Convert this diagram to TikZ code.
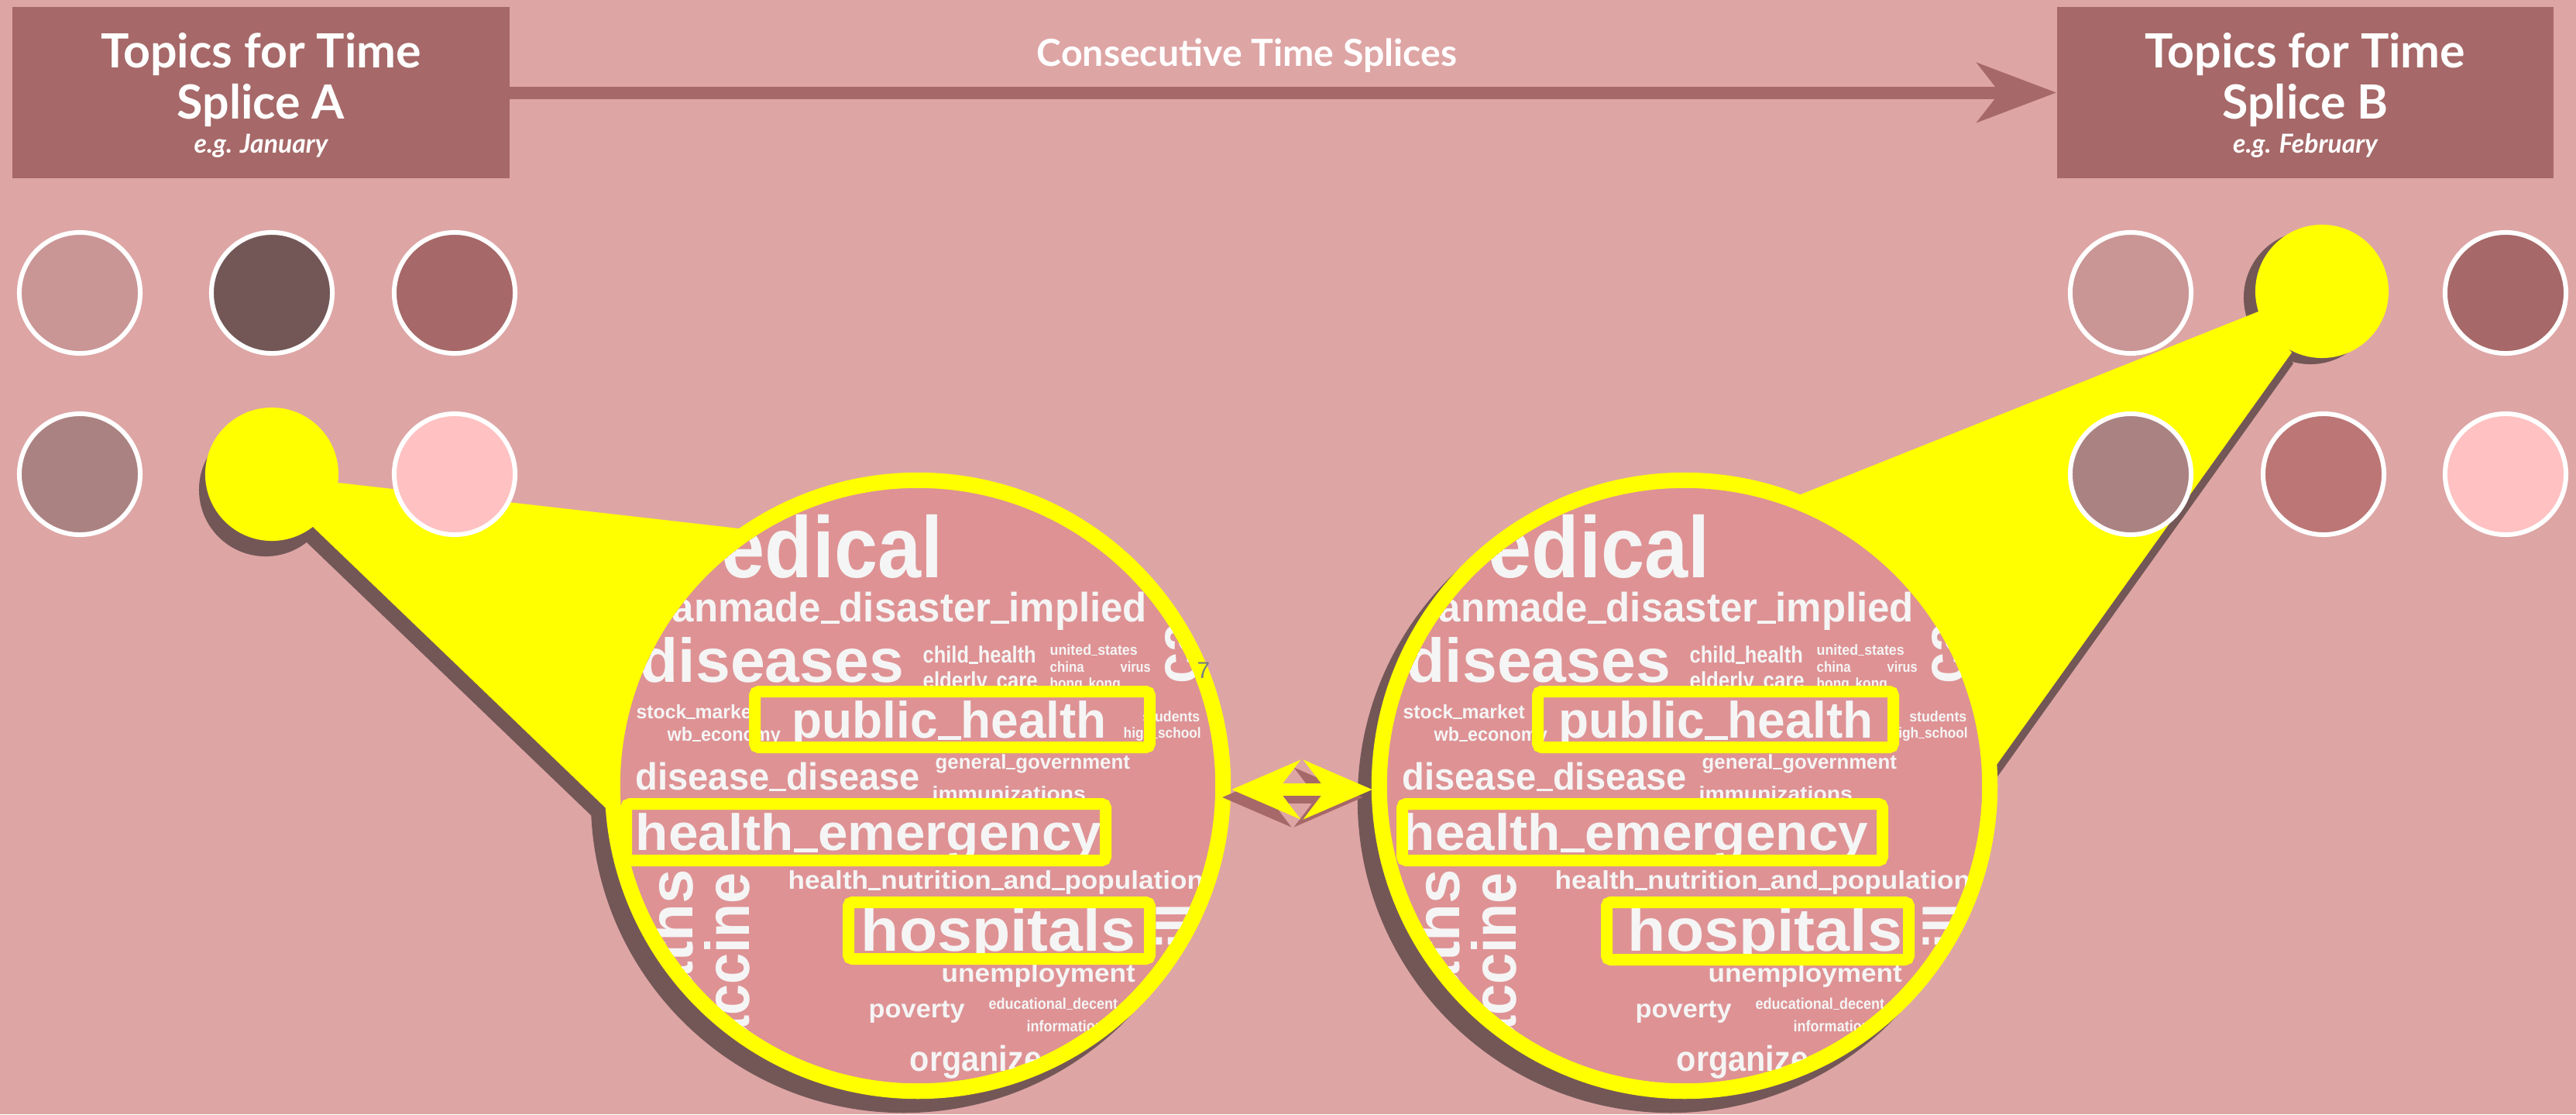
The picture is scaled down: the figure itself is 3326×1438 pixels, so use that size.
\documentclass[tikz,border=0pt]{standalone}
\usepackage{fontspec}
\usepackage{graphicx}
\setmainfont{Lato}
\newfontfamily\cloudfont{Liberation Sans}
\usetikzlibrary{arrows.meta}
\definecolor{bgc}{RGB}{222,165,165}
\definecolor{boxc}{RGB}{166,104,104}
\definecolor{darkc}{RGB}{115,87,87}
\definecolor{cloudbg}{RGB}{222,146,148}
\definecolor{cloudtx}{RGB}{245,245,245}
\definecolor{hy}{RGB}{255,255,0}
\definecolor{sevenc}{RGB}{120,126,134}
\definecolor{tc1}{RGB}{201,149,149}
\definecolor{tc2}{RGB}{115,87,87}
\definecolor{tc3}{RGB}{166,104,104}
\definecolor{tc4}{RGB}{171,130,130}
\definecolor{tc5}{RGB}{188,118,118}
\definecolor{tc6}{RGB}{255,193,193}

\newcommand\us{\rule[-0.05em]{0.46em}{0.075em}}
\newlength\cwl
\newcommand\fitto[2]{\settowidth\cwl{#2}\pgfmathsetmacro\cwsc{#1*0.284528/\cwl}\scalebox{\cwsc}[1]{#2}}
\newcommand\W[7]{\node[cw,anchor=#6] (#1) at (#2,#3) {\fontsize{\fpeval{#4*0.284528}pt}{\fpeval{#4*0.3}pt}\selectfont\ifnum#5=0\relax\scalebox{0.9}[1]{#7}\else\fitto{#5}{#7}\fi};}
\newcommand\R[7]{\node[cw,anchor=#5,rotate=90] (#1) at (#2,#3) {\fontsize{\fpeval{#4*0.284528}pt}{\fpeval{#4*0.3}pt}\selectfont\scalebox{#6}[1]{#7}};}

\newcommand\cloud[1]{%
\W{#1w1}{33}{-273}{112}{0}{base east}{edical}
\W{#1w2}{-318}{-216}{53}{613}{base west}{anmade\us disaster\us implied}
\W{#1w3}{-359}{-138}{80}{340}{base west}{diseases}
\W{#1w4}{6}{-163}{30}{146}{base west}{child\us health}
\W{#1w5}{6}{-130}{30}{148}{base west}{elderly\us care}
\W{#1w6}{170}{-173}{19}{113}{base west}{united\us states}
\W{#1w7}{170}{-151}{19}{44}{base west}{china}
\W{#1w8}{261}{-151}{19}{39}{base west}{virus}
\W{#1w9}{170}{-130}{19}{91}{base west}{hong\us kong}
\W{#1w10}{-364}{-91}{25}{157}{base west}{stock\us market}
\W{#1w11}{-324}{-62}{25}{146}{base west}{wb\us economy}
\W{#1w12}{-163}{-66}{66}{406}{base west}{public\us health}
\W{#1w13}{365}{-87}{19}{74}{base east}{students}
\W{#1w14}{265}{-66}{19}{100}{base west}{high\us school}
\W{#1w15}{-365}{1}{49}{367}{base west}{disease\us disease}
\W{#1w16}{22}{-26}{26}{251}{base west}{general\us government}
\W{#1w17}{18}{15}{26}{198}{base west}{immunizations}
\W{#1w18}{-365}{79}{66}{601}{base west}{health\us emergency}
\W{#1w19}{-168}{129}{33}{536}{base west}{health\us nutrition\us and\us population}
\W{#1w20}{-74}{209}{78}{354}{base west}{hospitals}
\W{#1w21}{30}{249}{33}{250}{base west}{unemployment}
\W{#1w22}{-64}{295}{33}{124}{base west}{poverty}
\W{#1w23}{91}{284}{20}{0}{base west}{educational\us decent}
\W{#1w24}{140}{313}{20}{0}{base west}{information}
\W{#1w25}{-11}{364}{46}{0}{base west}{organize}
\R{#1w26}{-291}{103}{80}{base east}{1}{deaths}
\R{#1w27}{-218}{108}{80}{base east}{0.9}{vaccine}
\R{#1w28}{362}{-135}{80}{base west}{0.9}{ca}
\R{#1w29}{364}{207}{78}{base west}{0.9}{ill}
}

\tikzset{
 topicbox/.style={fill=boxc, minimum width=6.41cm, minimum height=2.21cm, inner sep=0},
 ttl/.style={text=white, font=\fontsize{17.3pt}{18pt}\selectfont\bfseries, inner sep=0},
 subttl/.style={text=white, font=\fontsize{9.6pt}{10pt}\selectfont\bfseries\itshape, inner sep=0},
 toptxt/.style={text=white, font=\fontsize{13.7pt}{14pt}\selectfont\bfseries, inner sep=0},
 topic/.style={circle, draw=white, line width=0.06cm, minimum size=1.56cm, inner sep=0},
 spot/.style={circle, fill=hy, minimum size=1.72cm, inner sep=0},
 spotshadow/.style={circle, fill=darkc, minimum size=1.72cm, inner sep=0},
 bigc/.style={circle, fill=cloudbg, draw=hy, line width=0.2cm, minimum size=7.88cm, inner sep=0},
 bigshadow/.style={circle, fill=darkc, minimum size=8.08cm, inner sep=0},
 cw/.style={text=cloudtx, inner sep=0, font=\cloudfont\bfseries},
 hl/.style={draw=hy, line width=0.15cm, rounded corners=0.05cm},
 bighead/.style={-{Stealth[length=1.02cm,width=0.76cm,inset=0.29cm]}},
 dblhead/.style={{Stealth[length=0.88cm,width=0.75cm,inset=0.28cm]}-{Stealth[length=0.88cm,width=0.75cm,inset=0.28cm]}},
}

\begin{document}
\begin{tikzpicture}[x=0.01cm,y=-0.01cm]
\useasboundingbox (0,0) rectangle (3326,1438);
\fill[bgc] (0,0) rectangle (3326,1438);

% header boxes
\node[topicbox] (bA) at (337,119.5) {};
\node[topicbox] (bB) at (2976.5,119.5) {};
\draw[boxc, line width=0.16cm, bighead] (bA.east) -- (bB.west);
\node[toptxt, anchor=base] (lbl) at (1610,85) {Consecutive Time Splices};
\node[ttl, anchor=base] (tA1) at (337,87) {Topics for Time};
\node[ttl, anchor=base] (tA2) at (337,153) {Splice A};
\node[subttl, anchor=base] (tA3) at (337,197) {e.g. January};
\node[ttl, anchor=base] (tB1) at (2976.5,87) {Topics for Time};
\node[ttl, anchor=base] (tB2) at (2976.5,153) {Splice B};
\node[subttl, anchor=base] (tB3) at (2976.5,197) {e.g. February};

% shadows of the big circles
\node[bigshadow] (lcs) at (1167,1032) {};
\node[bigshadow] (rcs) at (2157,1032) {};

% shadows of the spotlights
\begin{scope}[shift={(-8,20)}]
\fill[darkc] (437,623) -- (1050,693) -- (1185,1014) -- (850,1108) -- (403,679) -- cycle;
\end{scope}
\node[spotshadow] (sLs) at (343,632) {};
\begin{scope}[shift={(2,14)}]
\fill[darkc] (2916,402) -- (2200,688) -- (2175,1014) -- (2540,1040) -- (2959,455) -- cycle;
\end{scope}
\node[spotshadow] (sRs) at (2983,384) {};

% spotlights
\fill[hy] (437,623) -- (1050,693) -- (1185,1014) -- (850,1108) -- (403,679) -- cycle;
\node[spot] (sL) at (351,612) {};
\fill[hy] (2916,402) -- (2200,688) -- (2175,1014) -- (2540,1040) -- (2959,455) -- cycle;
\node[spot] (sR) at (2998,376) {};

% topic circles A
\node[topic, fill=tc1] (a1) at (103,378) {};
\node[topic, fill=tc2] (a2) at (351,378) {};
\node[topic, fill=tc3] (a3) at (587,378) {};
\node[topic, fill=tc4] (a4) at (103,612) {};
\node[topic, fill=tc6] (a6) at (587,612) {};
% topic circles B
\node[topic, fill=tc1] (b1) at (2751,378) {};
\node[topic, fill=tc3] (b3) at (3235,378) {};
\node[topic, fill=tc4] (b4) at (2751,612) {};
\node[topic, fill=tc5] (b5) at (3000,612) {};
\node[topic, fill=tc6] (b6) at (3235,612) {};

% big word-cloud circles
\node[bigc] (lc) at (1185,1014) {};
\begin{scope}[shift={(1185,1018)}]
\clip (0,-4) circle[radius=3.84cm];
\cloud{L}
\end{scope}
\node[bigc] (rc) at (2175,1014) {};
\begin{scope}[shift={(2175,1018)}]
\clip (0,-4) circle[radius=3.84cm];
\cloud{R}
\end{scope}

% highlight frames
\draw[hl] (974.5,892.5) rectangle (1484.5,964.5);
\draw[hl] (808.5,1037.5) rectangle (1427.5,1110.5);
\draw[hl] (1095.5,1164.5) rectangle (1484.5,1237.5);
\draw[hl] (1985.5,892.5) rectangle (2444.5,964.5);
\draw[hl] (1810.5,1037.5) rectangle (2430.5,1110.5);
\draw[hl] (2074.5,1164.5) rectangle (2464.5,1238.5);

\node[anchor=base west, text=sevenc, inner sep=0, font=\cloudfont\fontsize{8.5pt}{8.5pt}\selectfont] (seven) at (1545,875) {7};

% double arrow between the clouds
\coordinate (dl) at (1590,1019);
\coordinate (dr) at (1772,1019);
\draw[boxc, line width=0.16cm, dblhead] ([shift={(-12,10)}]dl) -- ([shift={(-12,10)}]dr);
\draw[hy, line width=0.16cm, dblhead] (dl) -- (dr);
\end{tikzpicture}
\end{document}
